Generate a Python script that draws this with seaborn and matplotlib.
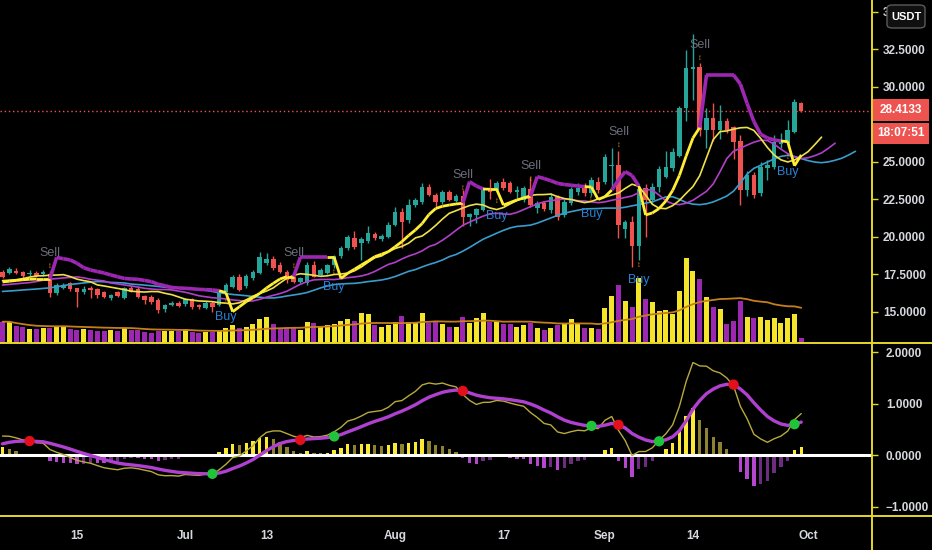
import numpy as np
import pandas as pd
import matplotlib
matplotlib.use("Agg")
import matplotlib.pyplot as plt
from matplotlib.collections import LineCollection
from matplotlib.lines import Line2D
from matplotlib.patches import Rectangle, FancyBboxPatch
import seaborn as sns

# daily candles, Jun 4 - Sep 30 2020
start = pd.Timestamp("2020-06-04")
dates = pd.date_range(start, "2020-09-30", freq="D")

opens = [17.67, 17.58, 17.76, 17.64, 17.55, 17.58, 17.53, 17.51, 16.29, 16.58,
         16.90, 16.58, 16.36, 16.60, 16.50, 16.30, 15.90, 16.30, 15.90, 16.58,
         16.50, 16.07, 16.02, 15.80, 15.18, 15.47, 15.58, 15.53, 15.87, 15.47,
         15.29, 15.62, 15.47, 16.36, 16.69, 17.36, 16.73, 17.24, 17.58, 18.24,
         18.51, 18.13, 17.69, 17.36, 17.02, 16.91, 18.13, 17.47, 17.58, 18.13,
         18.73, 19.24, 19.91, 19.58, 19.76, 20.20, 19.84, 19.98, 20.80, 21.69,
         21.10, 22.13, 22.36, 23.36, 22.80, 22.36, 23.02, 22.42, 22.73, 21.31,
         21.47, 21.80, 23.24, 23.13, 23.69, 23.58, 23.02, 22.47, 23.20, 21.91,
         22.24, 21.80, 22.69, 21.47, 22.24, 23.02, 23.24, 22.91, 23.69, 23.69,
         24.70, 24.80, 20.50, 21.02, 19.40, 23.24, 22.47, 23.36, 24.02, 24.58,
         25.40, 28.58, 31.20, 31.35, 27.13, 27.95, 27.13, 27.73, 27.31, 26.42,
         23.13, 24.13, 22.91, 24.60, 24.69, 26.20, 26.24, 27.02, 28.95]
highs = [17.78, 17.98, 17.90, 17.76, 17.80, 17.70, 17.80, 17.70, 16.90, 16.90,
         17.00, 16.60, 16.70, 16.70, 16.60, 16.40, 16.20, 16.40, 16.65, 16.70,
         16.70, 16.10, 16.10, 15.90, 15.50, 15.70, 15.70, 15.90, 15.95, 15.50,
         15.70, 15.70, 16.45, 16.90, 17.45, 17.50, 17.50, 17.80, 19.00, 18.90,
         18.70, 18.30, 17.80, 17.45, 17.30, 18.30, 18.40, 17.90, 18.20, 18.80,
         19.40, 20.10, 20.40, 20.00, 20.70, 20.35, 20.20, 21.00, 22.00, 21.90,
         22.50, 22.60, 23.60, 23.50, 22.90, 23.10, 23.10, 22.85, 23.10, 21.60,
         21.90, 23.30, 23.85, 23.70, 23.90, 23.70, 23.40, 23.40, 24.00, 22.40,
         22.40, 22.90, 22.80, 22.50, 23.30, 23.60, 23.60, 24.00, 24.00, 25.50,
         25.90, 25.70, 21.10, 21.40, 23.30, 23.50, 23.60, 24.70, 25.70, 25.90,
         28.70, 32.47, 33.53, 31.60, 28.60, 28.90, 28.80, 27.90, 27.40, 26.80,
         24.40, 24.30, 25.00, 25.10, 26.80, 26.90, 27.80, 29.20, 29.00]
lows = [17.25, 17.50, 17.50, 17.20, 17.40, 17.30, 17.40, 16.00, 16.10, 16.50,
        16.40, 15.36, 16.20, 15.95, 15.90, 15.90, 15.80, 16.00, 15.85, 16.30,
        15.95, 15.50, 15.50, 14.90, 15.00, 15.40, 15.30, 15.40, 15.20, 15.20,
        15.20, 15.00, 15.40, 16.30, 16.60, 16.40, 16.60, 17.10, 17.50, 18.10,
        17.80, 17.60, 16.90, 16.95, 16.90, 16.80, 17.30, 17.40, 17.50, 17.90,
        18.60, 19.10, 19.20, 18.47, 19.60, 19.80, 19.70, 19.90, 20.70, 19.24,
        20.90, 22.00, 22.20, 22.70, 22.00, 22.20, 22.40, 22.30, 20.70, 20.70,
        20.90, 21.70, 22.50, 23.00, 23.10, 22.90, 22.60, 22.30, 22.00, 21.60,
        21.70, 21.60, 21.10, 21.30, 22.10, 22.80, 22.70, 22.70, 22.90, 23.50,
        23.35, 19.90, 19.90, 18.00, 18.47, 20.00, 22.20, 23.00, 23.90, 24.40,
        25.30, 27.70, 29.13, 26.70, 25.90, 26.40, 26.50, 26.90, 25.20, 22.10,
        22.70, 22.60, 22.70, 23.80, 24.50, 25.90, 26.00, 26.90, 28.30]
closes = [17.36, 17.87, 17.58, 17.42, 17.62, 17.40, 17.69, 16.24, 16.80, 16.80,
          16.50, 16.36, 16.50, 16.47, 16.13, 16.02, 16.13, 16.07, 16.58, 16.36,
          16.02, 15.80, 15.69, 15.13, 15.47, 15.62, 15.40, 15.85, 15.36, 15.31,
          15.62, 15.31, 16.36, 16.80, 17.36, 16.47, 17.40, 17.69, 18.69, 18.51,
          17.91, 17.69, 17.13, 17.02, 17.24, 18.13, 17.36, 17.80, 18.13, 18.73,
          19.24, 19.98, 19.36, 19.84, 20.24, 19.91, 20.07, 20.80, 21.69, 21.02,
          22.13, 22.47, 23.36, 22.80, 22.36, 23.02, 22.47, 22.73, 21.36, 21.51,
          21.84, 23.24, 23.02, 23.58, 23.24, 23.02, 23.13, 23.24, 22.13, 22.24,
          21.84, 22.69, 21.36, 22.36, 23.20, 23.24, 22.90, 23.80, 23.13, 25.36,
          24.80, 20.80, 21.02, 19.40, 23.20, 22.47, 23.36, 24.54, 24.69, 25.69,
          28.58, 31.25, 31.30, 27.13, 27.95, 27.13, 27.73, 27.13, 26.36, 23.13,
          24.13, 22.80, 24.69, 24.80, 26.36, 26.36, 27.13, 29.02, 28.4133]
volume = [21.3, 21.3, 17.3, 15.7, 14.0, 14.0, 15.3, 15.3, 16.3, 17.3,
          14.0, 13.0, 14.0, 13.0, 12.0, 12.0, 13.0, 12.0, 14.7, 13.0,
          13.0, 11.3, 9.7, 12.3, 12.3, 12.3, 12.0, 13.7, 11.3, 10.3,
          10.8, 10.8, 12.8, 15.3, 17.7, 15.3, 16.3, 18.7, 23.7, 26.0,
          18.7, 15.3, 15.3, 15.3, 13.0, 21.0, 19.7, 16.3, 17.7, 18.7,
          22.0, 23.7, 22.0, 30.3, 28.7, 18.0, 16.3, 18.0, 21.0, 27.0,
          21.0, 19.7, 29.7, 20.3, 22.0, 18.7, 16.3, 16.3, 26.0, 20.3,
          24.7, 30.3, 21.3, 21.0, 18.7, 19.3, 16.3, 17.7, 20.3, 15.3,
          13.0, 15.3, 17.7, 19.3, 23.7, 18.7, 15.3, 15.3, 14.3, 35.3,
          47.0, 57.7, 42.0, 36.3, 64.7, 43.7, 41.0, 32.0, 32.7, 28.7,
          52.0, 84.7, 72.0, 63.7, 46.0, 36.3, 34.3, 18.7, 22.0, 42.0,
          26.3, 24.7, 26.0, 22.7, 24.7, 20.3, 25.3, 29.3, 4.7]

# trailing stop line of the buy/sell indicator
stop_line = [17.00, 17.05, 17.10, 17.15, 17.18, 17.20, 17.20, 17.20,
             18.64, 18.55, 18.47, 18.25, 17.95, 17.80, 17.70, 17.60, 17.47, 17.35,
             17.24, 17.20, 17.18, 17.10, 17.02, 16.85, 16.75, 16.64, 16.60, 16.58,
             16.55, 16.51, 16.49, 16.47, 16.42,
             16.29, 15.02, 15.35, 15.69, 15.95, 16.24, 16.60, 16.91, 17.20, 17.36, 17.36,
             18.64, 18.64, 18.64, 18.64, 18.64,
             18.64, 17.24, 17.58, 17.85, 18.13, 18.40, 18.69, 18.85, 19.02, 19.35,
             19.69, 20.10, 20.47, 20.90, 21.50, 21.90, 22.05, 22.13, 22.20, 22.25,
             23.69, 23.40, 23.20,
             23.18, 23.18, 22.13, 22.30, 22.47, 22.60, 22.70,
             24.02, 23.90, 23.75, 23.58, 23.50, 23.45, 23.40, 23.36,
             23.33, 22.50, 22.69, 23.13,
             23.80, 24.36, 24.10, 23.40,
             21.47, 21.60, 21.90, 22.40, 23.10, 24.10, 25.40, 26.60, 27.30,
             30.80, 30.80, 30.80, 30.80, 30.80, 30.20, 28.90, 27.70, 26.85, 26.60,
             26.47, 26.40,
             26.36, 24.75, 25.47]
stop_runs = [("B", 8), ("S", 25), ("B", 11), ("S", 5), ("B", 20), ("S", 3), ("B", 7),
             ("S", 8), ("B", 4), ("S", 4), ("B", 9), ("S", 12), ("B", 3)]

sell_bars = [7, 43, 68, 78, 91, 103]
sell_marks = [18.0, 18.0, 23.2, 23.8, 26.07, 31.87]
buy_bars = [33, 49, 73, 87, 94, 116]
buy_marks = [15.6, 17.6, 22.35, 22.47, 18.07, 25.27]

# alligator lines left of the first computed value
jaw_head = [16.37, 16.40, 16.43, 16.47, 16.50, 16.53, 16.57, 16.61]
teeth_head = [16.80, 16.84, 16.88, 16.92, 16.96]
lips_head = [17.09, 17.12, 17.15]

# MACD state before the first bar
ema12_seed, ema26_seed, signal_seed = 17.62, 17.20, 0.18
cross_bars = [4, 31, 44, 49, 68, 87, 91, 97, 108, 117]
cross_up = [False, True, False, True, False, True, False, True, False, True]

price_ticks = [15, 17.5, 20, 22.5, 25, 30, 32.5, 35]
macd_ticks = [-1, 0, 1, 2]
time_ticks = ["2020-06-15", "2020-07-01", "2020-07-13", "2020-08-01",
              "2020-08-17", "2020-09-01", "2020-09-14", "2020-10-01"]
time_labels = ["15", "Jul", "13", "Aug", "17", "Sep", "14", "Oct"]


def seeded_ewm(values, seed, **kw):
    s = pd.Series([seed] + list(values), dtype=float)
    return s.ewm(adjust=False, **kw).mean().to_numpy()[1:]


sns.set_style("dark", {"axes.facecolor": "black", "figure.facecolor": "black"})
plt.rcParams["font.family"] = ["Liberation Sans", "DejaVu Sans"]

o, h, l, c = (np.array(a, dtype=float) for a in (opens, highs, lows, closes))
vol = np.array(volume)
n = len(c)
idx = np.arange(n)
up = c >= o

TEAL, RED = "#26a69a", "#ef5350"
YEL, PUR = "#f5e52a", "#9c27b0"
AXIS = "#e6d629"
TXT = "#d6d8de"

W, H = 932, 550
fig = plt.figure(figsize=(W / 100, H / 100), dpi=100, facecolor="black")
axv = fig.add_axes([0, 1 - 343 / H, 872 / W, 343 / H])
ax = fig.add_axes([0, 1 - 343 / H, 872 / W, 343 / H], facecolor="none")
axm = fig.add_axes([0, 34 / H, 872 / W, 171 / H])

xlim = (-0.37, 128.45)

# volume
vcol = np.where(up, YEL, PUR)
axv.bar(idx, vol, width=0.74, color=vcol, linewidth=0)
vma = pd.Series(vol).rolling(20, min_periods=1).mean()
sns.lineplot(x=idx, y=vma, ax=axv, color="#c47f1c", linewidth=1.3)
axv.set_ylim(0, 343)
axv.set_xlim(xlim)
axv.axis("off")

# candles
ccol = np.where(up, TEAL, RED)
ax.vlines(idx, l, h, colors=ccol, linewidth=1)
ax.bar(idx, np.maximum(np.abs(c - o), 0.04), bottom=np.minimum(o, c),
       width=0.66, color=ccol, linewidth=0)

# alligator (smoothed median price, shifted forward)
med = (h + l) / 2
for head, length, shift, color in [(jaw_head, 13, 8, "#3a9ccc"),
                                   (teeth_head, 8, 5, "#b23fc9"),
                                   (lips_head, 5, 3, "#eee04a")]:
    line = np.concatenate([head, seeded_ewm(med, head[-1], alpha=1 / length)])
    sns.lineplot(x=np.arange(len(line)), y=line, ax=ax, color=color, linewidth=1.2)

# buy/sell stop line
side = "".join(s * k for s, k in stop_runs)
segs = [[(i - 1, stop_line[i - 1]), (i, stop_line[i])] for i in range(1, n)]
seg_col = [PUR if side[i] == "S" else "#ffee33" for i in range(1, n)]
seg_w = [2.6 if side[i] == "S" else 2.0 for i in range(1, n)]
ax.add_collection(LineCollection(segs, colors=seg_col, linewidths=seg_w, zorder=3))

for b, lvl in zip(sell_bars, sell_marks):
    ax.text(b, lvl, "↕", color="#f39c12", fontsize=5.5, ha="center", va="center", zorder=5)
    ax.annotate("Sell", (b, lvl), xytext=(0, 10), textcoords="offset points",
                color="#6b6e78", fontsize=9, ha="center", va="center", zorder=5)
for b, lvl in zip(buy_bars, buy_marks):
    ax.text(b, lvl, "↕", color="#f39c12", fontsize=5.5, ha="center", va="center", zorder=5)
    ax.annotate("Buy", (b, lvl), xytext=(0, -10), textcoords="offset points",
                color="#2a82d8", fontsize=9, ha="center", va="center", zorder=5)

ax.axhline(c[-1], color=RED, linestyle=(0, (1, 2)), linewidth=1)

ax.set_xlim(xlim)
ax.set_ylim(12.933, 35.8)
ax.set_xticks([])
ax.yaxis.tick_right()
ax.set_yticks(price_ticks)
ax.set_yticklabels([f"{v:.4f}" for v in price_ticks])
ax.tick_params(axis="y", colors=AXIS, labelcolor=TXT, length=4, width=1, pad=4,
               labelsize=8.5)
for t in ax.get_yticklabels():
    t.set_fontweight("bold")
for sp in ax.spines.values():
    sp.set_visible(False)
ax.grid(False)

# MACD
ema12 = seeded_ewm(c, ema12_seed, span=12)
ema26 = seeded_ewm(c, ema26_seed, span=26)
macd = ema12 - ema26
signal = seeded_ewm(macd, signal_seed, span=9)
hist = macd - signal
prev = np.concatenate([[hist[0]], hist[:-1]])
hcol = np.where(hist >= 0, np.where(hist >= prev, "#fbe934", "#8d8230"),
                np.where(hist < prev, "#b546cf", "#6c2d80"))
axm.bar(idx, hist, width=0.5, color=hcol, linewidth=0)
axm.axhline(0, color="white", linewidth=2.2)
sns.lineplot(x=idx, y=macd, ax=axm, color="#b8aa3c", linewidth=1)
sns.lineplot(x=idx, y=signal, ax=axm, color="#b040cf", linewidth=2.4)
cb = np.array(cross_bars)
axm.scatter(cb, signal[cb], s=55, c=np.where(cross_up, "#1fc43a", "#e3101c"),
            zorder=5, linewidths=0)

axm.set_xlim(xlim)
axm.set_ylim(-1.184, 2.136)
axm.yaxis.tick_right()
axm.set_yticks(macd_ticks)
axm.set_yticklabels([f"{v:.4f}".replace("-", "−") for v in macd_ticks])
tpos = [(pd.Timestamp(d) - start).days for d in time_ticks]
axm.set_xticks(tpos)
axm.set_xticklabels(time_labels)
axm.tick_params(colors=AXIS, labelcolor=TXT, length=4, width=1, pad=6, labelsize=8.5)
for t in axm.get_yticklabels() + axm.get_xticklabels():
    t.set_fontweight("bold")
for sp in axm.spines.values():
    sp.set_visible(False)
axm.grid(False)

# pane borders
for y in (343, 516):
    fig.add_artist(Line2D([0, 1], [1 - y / H] * 2, color=AXIS, linewidth=1.4,
                          transform=fig.transFigure))
fig.add_artist(Line2D([872 / W] * 2, [0, 1], color=AXIS, linewidth=1.4,
                      transform=fig.transFigure))

# last price / countdown boxes and currency tag
for (y0, y1), label in [((99, 121), f"{c[-1]:.4f}"), ((123, 144), "18:07:51")]:
    fig.add_artist(Rectangle((873 / W, 1 - y1 / H), 56 / W, (y1 - y0) / H,
                             transform=fig.transFigure, fc=RED, ec="none", zorder=6))
    fig.text(901 / W, 1 - (y0 + y1) / 2 / H, label, ha="center", va="center",
             color="white", fontsize=8.5, fontweight="bold", zorder=7)
fig.add_artist(FancyBboxPatch((887 / W, 1 - 28 / H), 38 / W, 23 / H,
                              boxstyle="round,pad=0,rounding_size=0.006",
                              transform=fig.transFigure, fc="#101010", ec="#5a5a5a",
                              lw=1, zorder=6))
fig.text(906 / W, 1 - 16.5 / H, "USDT", ha="center", va="center", color="white",
         fontsize=8, fontweight="bold", zorder=7)

fig.savefig("out.png", dpi=100, facecolor="black")
